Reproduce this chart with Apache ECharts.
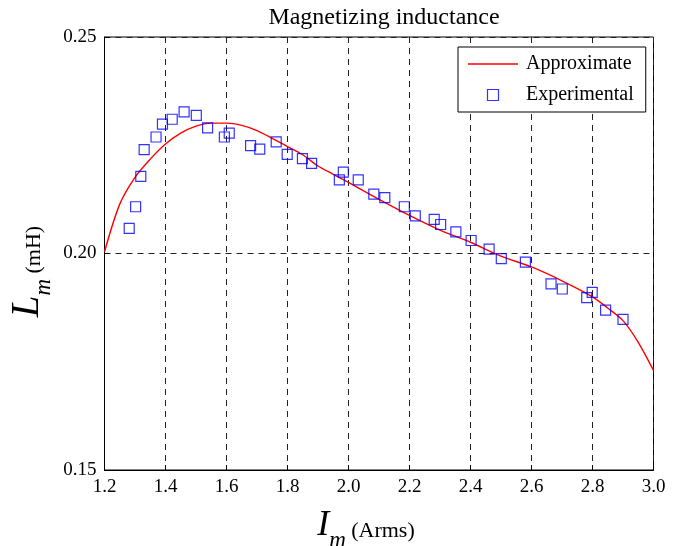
<!DOCTYPE html>
<html>
<head>
<meta charset="utf-8">
<script src="https://cdn.jsdelivr.net/npm/echarts@6/dist/echarts.min.js"></script>
<style>
html,body{margin:0;padding:0;background:#fff;}
#chart{width:694px;height:546px;}
</style>
</head>
<body>
<div id="chart"></div>
<script>
// Data
const chartTitle = 'Magnetizing inductance';
const seriesNames = ['Approximate', 'Experimental'];
const xTicks = [1.2, 1.4, 1.6, 1.8, 2.0, 2.2, 2.4, 2.6, 2.8, 3.0];
const yTicks = [0.15, 0.20, 0.25];

// Approximate (fitted) curve
const approxX = [1.20, 1.25, 1.30, 1.35, 1.40, 1.45, 1.50, 1.55, 1.60, 1.65, 1.70, 1.75, 1.80, 1.85, 1.90, 1.95, 2.00, 2.10, 2.20, 2.30, 2.40, 2.50, 2.60, 2.70, 2.80, 2.85, 2.90, 2.95, 3.00];
const approxY = [0.2004, 0.2114, 0.2176, 0.2218, 0.2253, 0.2278, 0.2294, 0.2301, 0.2301, 0.2296, 0.2284, 0.2266, 0.2247, 0.2228, 0.2202, 0.2183, 0.2164, 0.2125, 0.2088, 0.2054, 0.2026, 0.1994, 0.1969, 0.1937, 0.1900, 0.1874, 0.1845, 0.1795, 0.1730];

// Experimental points
const expX = [1.281, 1.302, 1.319, 1.330, 1.369, 1.390, 1.422, 1.461, 1.501, 1.538, 1.593, 1.609, 1.679, 1.709, 1.763, 1.799, 1.849, 1.879, 1.970, 1.983, 2.032, 2.083, 2.119, 2.183, 2.219, 2.281, 2.302, 2.352, 2.402, 2.461, 2.501, 2.580, 2.664, 2.701, 2.781, 2.799, 2.843, 2.900];
const expY = [0.2058, 0.2108, 0.2178, 0.2240, 0.2269, 0.2299, 0.2310, 0.2327, 0.2319, 0.2290, 0.2269, 0.2278, 0.2249, 0.2241, 0.2258, 0.2229, 0.2219, 0.2208, 0.2170, 0.2188, 0.2170, 0.2137, 0.2129, 0.2108, 0.2087, 0.2079, 0.2067, 0.2050, 0.2030, 0.2010, 0.1988, 0.1980, 0.1930, 0.1918, 0.1898, 0.1910, 0.1869, 0.1848];

const SERIF = '"Liberation Serif", "Times New Roman", serif';

function nameRich(big) {
  return {
    v: {fontFamily: SERIF, fontStyle: 'italic', fontSize: big, color: '#000', verticalAlign: 'bottom'},
    s: {fontFamily: SERIF, fontStyle: 'italic', fontSize: 23, color: '#000', verticalAlign: 'bottom', padding: [0, 2, -8, 0]},
    u: {fontFamily: SERIF, fontSize: 22, color: '#000', verticalAlign: 'bottom', padding: [0, 0, 2, 0]}
  };
}

const chart = echarts.init(document.getElementById('chart'), null, {renderer: 'canvas'});
const option = {
  backgroundColor: '#fff',
  animation: false,
  title: {
    text: chartTitle,
    left: 379, top: 1, textAlign: 'center',
    textStyle: {fontFamily: SERIF, fontSize: 24, fontWeight: 'normal', color: '#000'}
  },
  legend: {
    orient: 'vertical',
    left: 458, top: 47,
    padding: [7, 12, 7, 10],
    itemGap: 11,
    itemWidth: 50, itemHeight: 11,
    backgroundColor: '#fff',
    borderColor: '#000', borderWidth: 1,
    symbolKeepAspect: true,
    textStyle: {fontFamily: SERIF, fontSize: 20, color: '#000', padding: [0, 0, 0, 3]},
    data: [
      {name: seriesNames[0], icon: 'path://M0,0H50V1.4H0Z',
       itemStyle: {color: '#ff0000', borderWidth: 0}},
      {name: seriesNames[1], icon: 'path://M0,0H10V10H0Z',
       itemStyle: {color: 'rgba(0,0,0,0)', borderColor: '#0000ff', borderWidth: 1.2}}
    ]
  },
  grid: {
    left: 104.5, right: 40.5, top: 37, bottom: 76,
    containLabel: false,
    outerBoundsMode: 'none',
    show: true, borderColor: '#000', borderWidth: 1, backgroundColor: '#fff'
  },
  xAxis: {
    type: 'value', min: xTicks[0], max: xTicks[xTicks.length - 1], interval: 0.2,
    name: '{v|I}{s|m} {u|(Arms)}',
    nameLocation: 'middle', nameGap: 38,
    nameTextStyle: {rich: nameRich(36), padding: [0, 26, 0, 0]},
    axisLine: {show: true, onZero: false, lineStyle: {color: '#000', width: 1}},
    axisTick: {show: true, inside: true, length: 5, lineStyle: {color: '#000'}},
    axisLabel: {fontFamily: SERIF, fontSize: 19, color: '#000', margin: 8,
      formatter: v => v.toFixed(1)},
    splitLine: {show: true, lineStyle: {color: '#222', type: [6, 5], width: 1}}
  },
  yAxis: {
    type: 'value', min: yTicks[0], max: yTicks[yTicks.length - 1], interval: 0.05,
    name: '{v|L}{s|m} {u|(mH)}',
    nameLocation: 'middle', nameGap: 57, nameRotate: 90,
    nameMoveOverlap: false,
    nameTextStyle: {rich: nameRich(39), padding: [0, 36, 0, 0]},
    axisLine: {show: true, onZero: false, lineStyle: {color: '#000', width: 1}},
    axisTick: {show: true, inside: true, length: 5, lineStyle: {color: '#000'}},
    axisLabel: {fontFamily: SERIF, fontSize: 19, color: '#000', margin: 8,
      formatter: v => v.toFixed(2)},
    splitLine: {show: true, lineStyle: {color: '#222', type: [6, 5], width: 1}}
  },
  series: [
    {
      name: seriesNames[0], type: 'line', smooth: 0.3, symbol: 'none',
      lineStyle: {color: '#ff0000', width: 1.4},
      itemStyle: {color: '#ff0000'},
      data: approxX.map((x, i) => [x, approxY[i]]),
      z: 3
    },
    {
      name: seriesNames[1], type: 'scatter', symbol: 'rect', symbolSize: 10,
      itemStyle: {color: 'rgba(0,0,0,0)', borderColor: '#0000ff', borderWidth: 1.2},
      data: expX.map((x, i) => [x, expY[i]]),
      z: 4
    }
  ]
};
chart.setOption(option);
</script>
</body>
</html>
